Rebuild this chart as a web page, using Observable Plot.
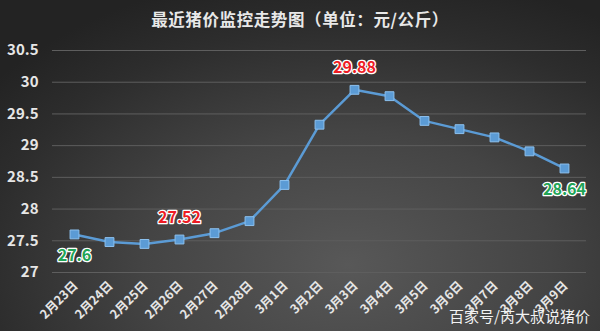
<!DOCTYPE html>
<html><head><meta charset="utf-8">
<script src="https://cdn.jsdelivr.net/npm/d3@7"></script>
<script src="https://cdn.jsdelivr.net/npm/@observablehq/plot@0.6"></script>
<style>
html,body{margin:0;padding:0;}
#wrap{position:relative;width:600px;height:331px;overflow:hidden;
 background: radial-gradient(ellipse 75% 90% at 58% 80%, #585858 0%, #444 45%, #2d2d2d 80%, #232323 100%);
 font-family:"Noto Sans CJK SC","Noto Sans",sans-serif;}
#title{height:36px;line-height:38px;text-align:center;color:#e8e8e8;font-size:16.5px;font-weight:bold;letter-spacing:0.6px;}
#wm{position:absolute;right:10px;bottom:5px;color:#f2f2f2;font-size:15px;}
svg{display:block;}
</style></head>
<body><div id="wrap"><div id="title">最近猪价监控走势图（单位：元/公斤）</div><div id="chart"></div><div id="wm">百家号/芮大叔说猪价</div></div>
<script>
const dates = ["2月23日","2月24日","2月25日","2月26日","2月27日","2月28日","3月1日","3月2日","3月3日","3月4日","3月5日","3月6日","3月7日","3月8日","3月9日"];
const prices = [27.6,27.48,27.45,27.52,27.62,27.81,28.38,29.33,29.88,29.78,29.39,29.26,29.13,28.91,28.64];
const yTicks = [27,27.5,28,28.5,29,29.5,30,30.5];
const highlightDates = ["2月23日","2月26日","3月3日","3月9日"];
const highlightKinds = ["low","high","high","low"];

const data = dates.map((d,i)=>({date:d, price:prices[i]}));
const labels = highlightDates.map((d,i)=>({date:d, price:prices[dates.indexOf(d)], kind:highlightKinds[i]}));

const plot = Plot.plot({
  width:600, height:295,
  marginLeft:52, marginRight:14, marginTop:14, marginBottom:59,
  style:{background:"transparent", color:"#e0e0e0", fontFamily:"'Noto Sans CJK SC','Noto Sans',sans-serif"},
  x:{type:"point", domain:dates, padding:0.5, axis:null},
  y:{domain:[27,30.5], axis:null},
  marks:[
    Plot.ruleY(yTicks,{stroke:"#5e5e5e", strokeWidth:1}),
    Plot.text(yTicks,{y:d=>d, text:d=>String(d), frameAnchor:"left", dx:-14, textAnchor:"end", fill:"#e6e6e6", fontSize:15, fontWeight:"bold"}),
    Plot.text(dates,{x:d=>d, text:d=>d, frameAnchor:"bottom", dy:14, dx:4, rotate:-45, textAnchor:"end", fill:"#e6e6e6", fontSize:12.5, fontWeight:"bold"}),
    Plot.line(data,{x:"date", y:"price", stroke:"#5b9bd5", strokeWidth:2.5}),
    Plot.dot(data,{x:"date", y:"price", symbol:"square", r:5, fill:"#5b9bd5", stroke:"#8cc0ee", strokeWidth:1}),
    Plot.text(labels.filter(d=>d.kind==="high"),{x:"date", y:"price", text:d=>String(d.price), dy:-22, fill:"#ee1c24", stroke:"white", strokeWidth:2.5, fontSize:16, fontWeight:"bold"}),
    Plot.text(labels.filter(d=>d.kind==="low"),{x:"date", y:"price", text:d=>String(d.price), dy:21, fill:"#21a456", stroke:"white", strokeWidth:2.5, fontSize:16, fontWeight:"bold"})
  ]
});
document.getElementById("chart").appendChild(plot);
</script>
</body></html>
